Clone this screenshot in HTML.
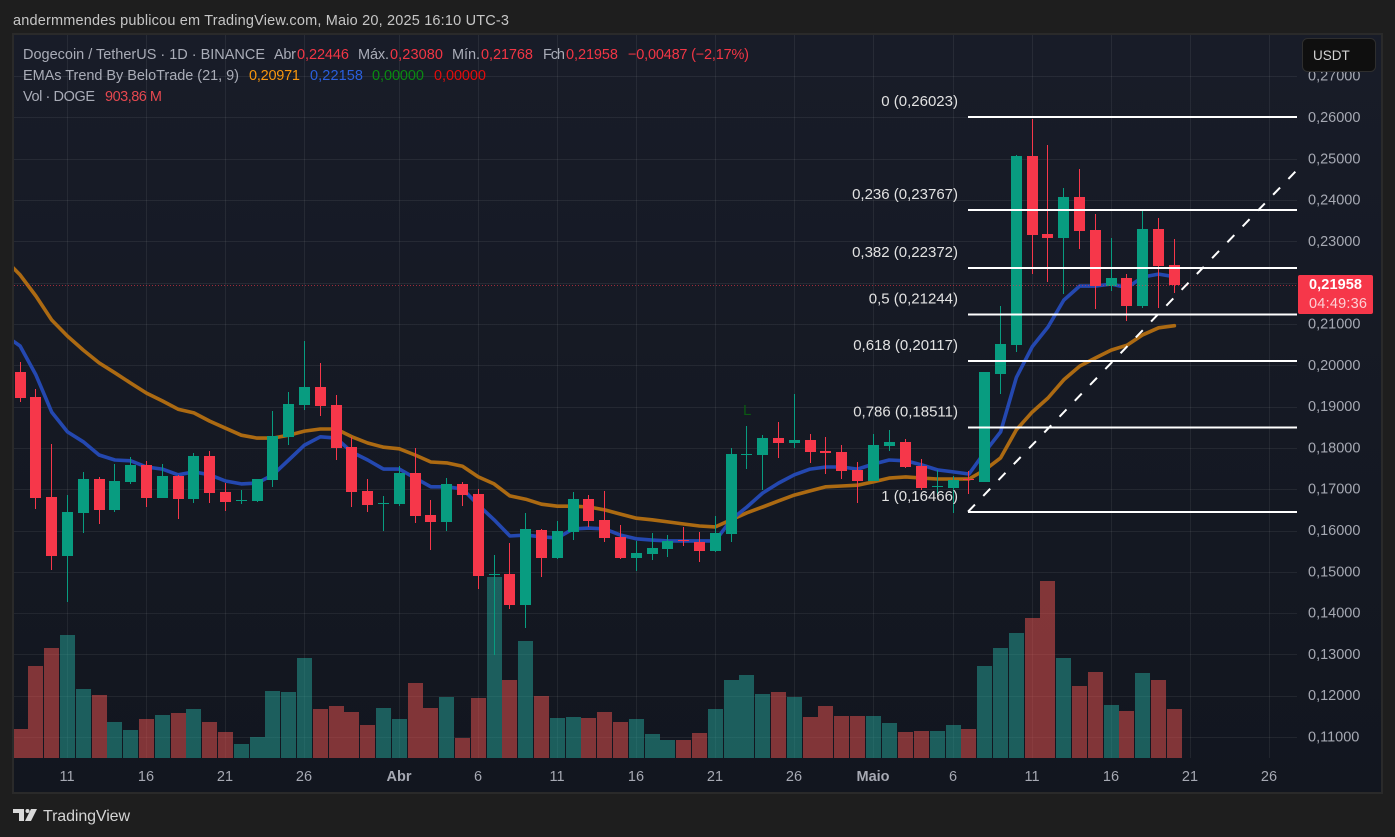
<!DOCTYPE html>
<html lang="pt">
<head>
<meta charset="utf-8">
<title>Dogecoin / TetherUS 1D</title>
<style>
html,body{margin:0;padding:0;background:#1e1e1e;width:1395px;height:837px;overflow:hidden}
svg{display:block;position:absolute;left:0;top:0}
text{font-family:"Liberation Sans",sans-serif;font-size:14.5px;fill:#a9acb7;white-space:pre}
.hdr{fill:#c6c6c6}
.red{fill:#f23645}
.axis{fill:#a6a9b3}
.fib{fill:#e2e2e2;font-size:15px;text-anchor:end}
.tick{text-anchor:middle}
.bold{font-weight:bold}
</style>
</head>
<body>
<svg id="chart" width="1395" height="837" viewBox="0 0 1395 837" xmlns="http://www.w3.org/2000/svg">
  <defs>
    <linearGradient id="panelBg" x1="0" y1="0" x2="0" y2="1">
      <stop offset="0" stop-color="#181c28"/>
      <stop offset="1" stop-color="#12161f"/>
    </linearGradient>
    <clipPath id="plotClip"><rect x="14" y="35" width="1283" height="723"/></clipPath>
  </defs>

  <text class="hdr" x="13" y="25" textLength="496" lengthAdjust="spacing">andermmendes publicou em TradingView.com, Maio 20, 2025 16:10 UTC-3</text>

  <rect x="13" y="34" width="1369" height="759" fill="url(#panelBg)" stroke="#2a2a2a" stroke-width="2"/>

  <g id="gridLayer" clip-path="url(#plotClip)" shape-rendering="crispEdges"></g>
  <g id="volumeLayer" clip-path="url(#plotClip)" shape-rendering="crispEdges"></g>
  <g id="emaLayer" clip-path="url(#plotClip)"></g>
  <g id="candleLayer" clip-path="url(#plotClip)" shape-rendering="crispEdges"></g>
  <g id="lastLayer" clip-path="url(#plotClip)" shape-rendering="crispEdges"></g>
  <g id="fibLayer"></g>
  <g id="priceAxis"></g>
  <g id="timeAxis"></g>

  <text x="743" y="415" style="fill:#0b5a12;font-size:15px">L</text>

  <g>
    <text x="23" y="59" textLength="242" lengthAdjust="spacing">Dogecoin / TetherUS · 1D · BINANCE</text>
    <text x="274" y="59" textLength="22" lengthAdjust="spacing">Abr</text>
    <text class="red" x="297" y="59" textLength="52" lengthAdjust="spacing">0,22446</text>
    <text x="358" y="59" textLength="31" lengthAdjust="spacing">Máx.</text>
    <text class="red" x="390" y="59" textLength="53" lengthAdjust="spacing">0,23080</text>
    <text x="452" y="59" textLength="28" lengthAdjust="spacing">Mín.</text>
    <text class="red" x="481" y="59" textLength="52" lengthAdjust="spacing">0,21768</text>
    <text x="543" y="59" textLength="22" lengthAdjust="spacing">Fch</text>
    <text class="red" x="566" y="59" textLength="52" lengthAdjust="spacing">0,21958</text>
    <text class="red" x="628" y="59" textLength="121" lengthAdjust="spacing">−0,00487 (−2,17%)</text>

    <text x="23" y="80" textLength="216" lengthAdjust="spacing">EMAs Trend By BeloTrade (21, 9)</text>
    <text x="249" y="80" textLength="51" lengthAdjust="spacing" style="fill:#f7960e">0,20971</text>
    <text x="310" y="80" textLength="53" lengthAdjust="spacing" style="fill:#2a5fdc">0,22158</text>
    <text x="372" y="80" textLength="52" lengthAdjust="spacing" style="fill:#0a8a12">0,00000</text>
    <text x="434" y="80" textLength="52" lengthAdjust="spacing" style="fill:#e30c0c">0,00000</text>

    <text x="23" y="101" textLength="72" lengthAdjust="spacing">Vol · DOGE</text>
    <text x="105" y="101" textLength="57" lengthAdjust="spacing" style="fill:#e5484f">903,86 M</text>
  </g>

  <g>
    <rect x="1298" y="275" width="75" height="39" rx="2" fill="#f6374a"/>
    <text class="bold" x="1309" y="289" textLength="53" lengthAdjust="spacing" style="fill:#ffffff">0,21958</text>
    <text x="1309" y="308" textLength="58" lengthAdjust="spacing" style="fill:#fcd0d5">04:49:36</text>
  </g>

  <g>
    <rect x="1302.5" y="38.5" width="73" height="33" rx="5" fill="#0f0f0f" stroke="#2e2e2e"/>
    <text x="1313" y="60" style="fill:#d2d2d2;font-size:13.5px">USDT</text>
  </g>

  <g>
    <path d="M13 809h11v12h-5v-8h-6z" fill="#d9d9d9"/>
    <circle cx="27.5" cy="811" r="2" fill="#d9d9d9"/>
    <path d="M31 809h6l-6 12h-6z" fill="#d9d9d9"/>
    <text x="43" y="821" textLength="87" lengthAdjust="spacing" style="fill:#d4d4d4;font-size:16px">TradingView</text>
  </g>
</svg>

<script>
// Dates of the bars (MM-DD, 2025)
const categories = ['03-08','03-09','03-10','03-11','03-12','03-13','03-14','03-15','03-16','03-17','03-18','03-19','03-20','03-21','03-22','03-23','03-24','03-25','03-26','03-27','03-28','03-29','03-30','03-31',
'04-01','04-02','04-03','04-04','04-05','04-06','04-07','04-08','04-09','04-10','04-11','04-12','04-13','04-14','04-15','04-16','04-17','04-18','04-19','04-20','04-21','04-22','04-23','04-24','04-25','04-26','04-27','04-28','04-29','04-30',
'05-01','05-02','05-03','05-04','05-05','05-06','05-07','05-08','05-09','05-10','05-11','05-12','05-13','05-14','05-15','05-16','05-17','05-18','05-19','05-20'];

const openPrices = [.1985,.1925,.1682,.1539,.1644,.1726,.1651,.1719,.1760,.1680,.1733,.1677,.1782,.1694,.1674,.1673,.1724,.1828,.1905,.1949,.1905,.1803,.1697,.1667,
.1665,.1740,.1639,.1622,.1714,.1690,.1493,.1496,.1421,.1602,.1535,.1598,.1677,.1627,.1586,.1535,.1544,.1556,.1577,.1573,.1552,.1593,.1785,.1784,.1825,.1813,.1820,.1793,.1791,.1748,
.1721,.1806,.1815,.1757,.1706,.1704,.1725,.1719,.1980,.2050,.2508,.2319,.2310,.2409,.2329,.2193,.2213,.2145,.2331,.22446];

const highPrices = [.2009,.1944,.1811,.1687,.1743,.1731,.1762,.1779,.1770,.1762,.1736,.1789,.1794,.1716,.1699,.1726,.1891,.1937,.2060,.2007,.1929,.1828,.1726,.1685,
.1757,.1801,.1675,.1728,.1719,.1702,.1542,.1571,.1644,.1605,.1624,.1694,.1687,.1697,.1615,.1576,.1595,.1590,.1610,.1598,.1636,.1801,.1854,.1832,.1864,.1932,.1835,.1828,.1808,.1767,
.1835,.1845,.1823,.1774,.1748,.1733,.1745,.1985,.2145,.2510,.2598,.2535,.2431,.2476,.2368,.2310,.2222,.2375,.2358,.23080];

const lowPrices = [.1912,.1653,.1506,.1428,.1595,.1617,.1646,.1714,.1658,.1680,.1629,.1668,.1668,.1648,.1665,.1670,.1707,.1808,.1893,.1878,.1772,.1658,.1646,.1600,
.1660,.1619,.1554,.1600,.1660,.1460,.1300,.1411,.1365,.1489,.1532,.1578,.1610,.1573,.1532,.1503,.1530,.1537,.1564,.1525,.1550,.1573,.1750,.1699,.1777,.1801,.1765,.1738,.1726,.1668,
.1721,.1794,.1753,.1699,.1687,.1644,.1690,.1719,.1932,.2033,.2222,.2203,.2174,.2283,.2138,.2181,.2108,.2140,.2140,.21768];

const closePrices = [.1922,.1680,.1539,.1646,.1726,.1651,.1721,.1760,.1680,.1733,.1677,.1782,.1692,.1670,.1676,.1726,.1830,.1908,.1949,.1903,.1801,.1694,.1663,.1669,
.1740,.1636,.1622,.1714,.1687,.1491,.1495,.1421,.1605,.1535,.1600,.1677,.1624,.1583,.1535,.1547,.1559,.1576,.1575,.1552,.1595,.1786,.1787,.1825,.1813,.1820,.1791,.1790,.1745,.1721,
.1808,.1815,.1755,.1704,.1708,.1724,.1723,.1985,.2053,.2508,.2317,.2310,.2409,.2326,.2193,.2213,.2145,.2331,.2242,.21958];

// Volume in millions of DOGE
const volumes = [535,1697,2029,2269,1273,1162,664,516,719,793,830,904,664,480,258,387,1236,1217,1845,904,959,849,609,922,
719,1383,922,1125,369,1107,3339,1439,2158,1144,738,756,738,849,664,719,443,332,332,461,904,1439,1531,1181,1217,1125,756,959,775,775,775,646,
480,498,498,609,535,1697,2029,2306,2582,3265,1845,1328,1586,978,867,1568,1439,904];

// EMA values; the first entry belongs to the bar before the visible range (03-07)
const emaFast = [.2075,.2048,.1978,.1888,.1840,.1816,.1784,.1772,.1770,.1755,.1750,.1736,.1743,.1736,.1721,.1714,.1716,.1736,.1772,.1808,.1828,.1825,.1791,.1772,.1750,
.1750,.1728,.1707,.1707,.1702,.1663,.1627,.1588,.1590,.1586,.1583,.1605,.1607,.1605,.1590,.1581,.1578,.1576,.1576,.1576,.1576,.1627,.1658,.1692,.1716,.1736,.1750,.1755,.1755,.1750,
.1762,.1772,.1770,.1760,.1748,.1743,.1738,.1791,.1840,.1972,.2046,.2094,.2159,.2193,.2193,.2198,.2189,.2215,.2222,.22158];

const emaSlow = [.2259,.2220,.2169,.2111,.2072,.2038,.2007,.1983,.1958,.1934,.1915,.1895,.1886,.1866,.1849,.1832,.1825,.1825,.1832,.1842,.1847,.1847,.1828,.1813,.1803,
.1799,.1784,.1767,.1765,.1757,.1731,.1714,.1685,.1677,.1665,.1660,.1660,.1658,.1651,.1641,.1631,.1627,.1622,.1617,.1612,.1610,.1627,.1644,.1658,.1673,.1687,.1697,.1707,.1709,.1711,
.1719,.1728,.1731,.1728,.1726,.1726,.1726,.1748,.1777,.1845,.1888,.1922,.1966,.1999,.2019,.2038,.2050,.2075,.2092,.20971];

const priceTicks = [.27,.26,.25,.24,.23,.22,.21,.20,.19,.18,.17,.16,.15,.14,.13,.12,.11];
const timeTickDates = ['03-11','03-16','03-21','03-26','04-01','04-06','04-11','04-16','04-21','04-26','05-01','05-06','05-11','05-16','05-21','05-26'];
const timeTickLabels = ['11','16','21','26','Abr','6','11','16','21','26','Maio','6','11','16','21','26'];
const fibRatios = ['0','0,236','0,382','0,5','0,618','0,786','1'];
const fibPrices = [.26023,.23767,.22372,.21244,.20117,.18511,.16466];
const trendPrices = [.16466,.24717];
const lastPrice = .21958;

const SVGNS = 'http://www.w3.org/2000/svg';
const MONTH_START = {'03':0,'04':31,'05':61};
function dayNumber(d){ return MONTH_START[d.slice(0,2)] + parseInt(d.slice(3),10); }
function xDay(n){ const k = n - 11; return 67.4 + 15.8 * k + (k >= 53 ? 0.9 : 0); }
function xDate(d){ return xDay(dayNumber(d)); }
function yPrice(p){ return 737.5 - (p - 0.11) * 4130; }
function yVolume(v){ return 758 - v / 18.446; }
function fmt(p){ return p.toFixed(5).replace('.', ','); }
function mk(parent, tag, attrs){
  const e = document.createElementNS(SVGNS, tag);
  for (const k in attrs) e.setAttribute(k, attrs[k]);
  parent.appendChild(e);
  return e;
}

const gridLayer = document.getElementById('gridLayer');
const volumeLayer = document.getElementById('volumeLayer');
const emaLayer = document.getElementById('emaLayer');
const candleLayer = document.getElementById('candleLayer');
const lastLayer = document.getElementById('lastLayer');
const fibLayer = document.getElementById('fibLayer');
const priceAxis = document.getElementById('priceAxis');
const timeAxis = document.getElementById('timeAxis');

// Grid and price axis
priceTicks.forEach(function(t){
  const y = Math.floor(yPrice(t)) + 0.5;
  const line = mk(gridLayer, 'line', {x1:14, x2:1297, y1:y, y2:y, stroke:'#ffffff', 'stroke-opacity':0.065});
  
  
  const label = mk(priceAxis, 'text', {x:1308, y:yPrice(t) + 4, 'class':'axis'});
  label.textContent = fmt(t);
  
  
});

// Grid and time axis
timeTickDates.forEach(function(d, i){
  const x = Math.floor(xDate(d)) + 0.5;
  const line = mk(gridLayer, 'line', {x1:x, x2:x, y1:35, y2:758, stroke:'#ffffff', 'stroke-opacity':0.065});
  
  
  const isMonth = timeTickLabels[i].length > 2;
  const label = mk(timeAxis, 'text', {x:x - 0.5, y:781, 'class': 'axis tick' + (isMonth ? ' bold' : '')});
  label.textContent = timeTickLabels[i];
  
  
});

// Volume bars
categories.forEach(function(d, i){
  const px = Math.floor(xDate(d));
  const top = Math.round(yVolume(volumes[i]));
  const up = closePrices[i] >= openPrices[i];
  const bar = mk(volumeLayer, 'rect', {x:px - 7, y:top, width:15, height:758 - top, fill: up ? '#26a69a' : '#ef5350', 'fill-opacity':0.5});
  
  
});

// EMA lines
function emaPath(values){
  const startDay = dayNumber(categories[0]) - 1;
  return values.map(function(v, i){
    const x = xDay(startDay + i) + 0.1;
    return (i ? 'L' : 'M') + x.toFixed(1) + ' ' + yPrice(v).toFixed(1);
  }).join('');
}
const slowLine = mk(emaLayer, 'path', {d:emaPath(emaSlow), fill:'none', stroke:'#ac6a12', 'stroke-width':3.6, 'stroke-linejoin':'round', 'stroke-linecap':'round'});


const fastLine = mk(emaLayer, 'path', {d:emaPath(emaFast), fill:'none', stroke:'#2448b0', 'stroke-width':3.6, 'stroke-linejoin':'round', 'stroke-linecap':'round'});



// Candles
categories.forEach(function(d, i){
  const px = Math.floor(xDate(d));
  const o = openPrices[i], c = closePrices[i];
  const color = c >= o ? '#089c80' : '#f6374a';
  const wickTop = Math.round(yPrice(highPrices[i]));
  const wickBottom = Math.round(yPrice(lowPrices[i]));
  const wick = mk(candleLayer, 'rect', {x:px, y:wickTop, width:1, height:Math.max(1, wickBottom - wickTop), fill:color});
  
  
  const bodyTop = Math.round(yPrice(Math.max(o, c)));
  const bodyBottom = Math.round(yPrice(Math.min(o, c)));
  const body = mk(candleLayer, 'rect', {x:px - 5, y:bodyTop, width:11, height:Math.max(1, bodyBottom - bodyTop), fill:color});
  
  
});

// Last price line
const lastY = Math.round(yPrice(lastPrice)) + 0.5;
const lastLine = mk(lastLayer, 'line', {x1:14, x2:1297, y1:lastY, y2:lastY, stroke:'#f6374a', 'stroke-width':1, 'stroke-dasharray':'1 2', 'stroke-opacity':0.6});



// Fibonacci levels
fibPrices.forEach(function(p, i){
  const y = yPrice(p);
  const line = mk(fibLayer, 'line', {x1:968, x2:1297, y1:y, y2:y, stroke:'#ffffff', 'stroke-width':2, 'shape-rendering':'crispEdges'});
  
  
  const label = mk(fibLayer, 'text', {x:958, y:y - 11, 'class':'fib'});
  label.textContent = fibRatios[i] + ' (' + fmt(p) + ')';
  
  
});

// Dashed trend line
const trend = mk(fibLayer, 'line', {x1:968, x2:1296, y1:yPrice(trendPrices[0]), y2:yPrice(trendPrices[1]), stroke:'#ffffff', 'stroke-width':2, 'stroke-dasharray':'10 12'});


</script>
</body>
</html>
